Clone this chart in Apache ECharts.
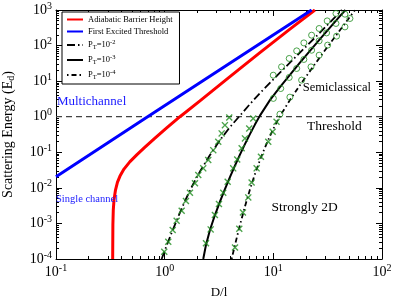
<!DOCTYPE html>
<html><head><meta charset="utf-8">
<script src="https://cdn.jsdelivr.net/npm/echarts@6/dist/echarts.min.js"></script>
<style>html,body{margin:0;padding:0;background:#fff}#c{width:397px;height:300px}</style>
</head><body><div id="c"></div>
<script>
// ---- tick values ----
const xMajor = [0.1, 1, 10, 100];
const xMinor = [0.2,0.3,0.4,0.5,0.6,0.7,0.8,0.9,2,3,4,5,6,7,8,9,20,30,40,50,60,70,80,90];
const yMajor = [1e-4, 1e-3, 1e-2, 1e-1, 1, 10, 100, 1000];
const yMinor = [];
[-4,-3,-2,-1,0,1,2].forEach(e => { for (let k = 2; k <= 9; k++) yMinor.push(k * Math.pow(10, e)); });

// ---- series data ----
const blueD = [0.1, 0.68, 22.5];
const blueE = [0.0204, 0.95, 1000];

const redD = [0.3323, 0.3338, 0.3366, 0.3417, 0.3527, 0.368, 0.388, 0.4222, 0.4795, 0.5561, 0.6588, 0.8143, 1.05, 1.383, 2.112, 3.988, 7.527, 14.21, 24.13];
const redE = [1e-4, 9.0e-4, 2.38e-3, 4.54e-3, 8.67e-3, 0.01456, 0.02143, 0.03373, 0.0548, 0.0861, 0.140, 0.2506, 0.4943, 1.0, 2.80, 13.37, 63.2, 289, 1000];

const thrD = [0.1, 100];
const thrE = [1, 1];

const p2D = [0.938, 1.006, 1.119, 1.244, 1.383, 1.537, 1.709, 1.90, 2.112, 2.611, 3.227, 3.988, 4.929, 6.091, 7.527, 11.5, 17.57, 26.84, 42.76];
const p2E = [1e-4, 1.79e-4, 4.15e-4, 9.3e-4, 2.02e-3, 4.26e-3, 8.4e-3, 0.016, 0.0287, 0.0834, 0.22, 0.511, 1.074, 2.26, 4.6, 17.3, 63.2, 230, 1000];

const p3D = [2.265, 2.399, 2.611, 2.902, 3.227, 3.587, 3.988, 4.434, 4.929, 5.479, 6.091, 6.771, 7.527, 9.305, 11.5, 17.57, 26.84, 41.0, 46.05];
const p3E = [1e-4, 2.47e-4, 6.53e-4, 1.72e-3, 4.12e-3, 9.24e-3, 0.0201, 0.0423, 0.0861, 0.17, 0.324, 0.6, 1.074, 2.93, 6.78, 33.1, 151, 670, 1000];

const p4D = [4.134, 4.434, 4.929, 5.479, 6.091, 6.771, 7.527, 8.368, 9.305, 10.34, 11.5, 14.21, 17.57, 26.84, 41.0, 56.3];
const p4E = [1e-4, 2.47e-4, 9.0e-4, 2.99e-3, 8.95e-3, 0.0244, 0.0604, 0.1355, 0.285, 0.562, 1.04, 2.93, 7.72, 47.2, 271, 986];

const x2D = [0.9915, 1.079, 1.185, 1.289, 1.434, 1.57, 1.709, 1.90, 2.038, 2.265, 2.518, 2.80, 3.112, 3.345, 3.586, 3.93];
const x2E = [1.6e-4, 3.06e-4, 6.5e-4, 1.19e-3, 2.28e-3, 4.26e-3, 7.3e-3, 0.0134, 0.0229, 0.0353, 0.0604, 0.115, 0.197, 0.34, 0.58, 0.955];
const o2D = [9.98, 11.9, 14.0, 16.4, 19.1, 22.5, 26.4, 31.3, 37.7];
const o2E = [14.7, 25.2, 43.4, 71, 119, 196, 302, 494, 798];

const x3D = [2.40, 2.65, 2.90, 3.16, 3.46, 3.80, 4.27, 4.65, 5.11, 5.48, 6.0, 6.53];
const x3E = [2.76e-4, 6.8e-4, 1.72e-3, 3.5e-3, 7.3e-3, 0.0148, 0.0353, 0.063, 0.129, 0.246, 0.469, 0.895];
const o3D = [10.0, 11.7, 14.0, 16.4, 19.1, 22.5, 26.4, 30.9, 37.7, 45.6];
const o3E = [3.27, 6.2, 12.7, 22.7, 40.7, 74, 136, 227, 418, 762];

const x4D = [4.44, 4.86, 5.25, 5.88, 6.31, 7.02, 7.69, 8.98, 9.86, 10.7];
const x4E = [2.1e-4, 7.05e-4, 2.02e-3, 5.4e-3, 0.0141, 0.0353, 0.0748, 0.197, 0.377, 0.72];
const o4D = [11.5, 14.2, 18.2, 22.2, 26.4, 31.6, 38.2, 45.6, 50.7];
const o4E = [1.18, 3.55, 10.7, 25.2, 53.7, 103, 184, 335, 577];

const legendNames = ['Adiabatic Barrier Height', 'First Excited Threshold', 'P_T=10^-2', 'P_T=10^-3', 'P_T=10^-4'];
const legendLabels = {
  'Adiabatic Barrier Height': 'Adiabatic Barrier Height',
  'First Excited Threshold': 'First Excited Threshold',
  'P_T=10^-2': 'P{sub|T}=10{sup|-2}',
  'P_T=10^-3': 'P{sub|T}=10{sup|-3}',
  'P_T=10^-4': 'P{sub|T}=10{sup|-4}'
};

const notes = [
  { text: 'Multichannel', at: [0.102, 2.74], color: '#1a1aff', size: 13 },
  { text: 'Single channel', at: [0.1, 0.0047], color: '#1a1aff', size: 10.5 },
  { text: 'Semiclassical', at: [18.7, 6.35], color: '#000', size: 12.5 },
  { text: 'Threshold', at: [20.4, 0.545], color: '#000', size: 13.5 },
  { text: 'Strongly 2D', at: [9.6, 0.00289], color: '#000', size: 13.5 }
];

// ---- chart ----
const FONT = 'Liberation Serif';
const GREEN = '#1f8c1f';
const CROSS = 'path://M0,1.4L1.4,0L5,3.6L8.6,0L10,1.4L6.4,5L10,8.6L8.6,10L5,6.4L1.4,10L0,8.6L3.6,5Z';
const pts = (xs, ys) => xs.map((x, i) => [x, ys[i]]);
const powLabel = v => { const e = Math.round(Math.log10(v)); return '{b|10}{s|' + e + '}'; };
const labelRich = { b: { fontSize: 14, fontFamily: FONT, color: '#000' }, s: { fontSize: 10, fontFamily: FONT, color: '#000', verticalAlign: 'top', padding: [0, 0, 8, 0] } };

function xAx(pos, major, withLabel) {
  return {
    type: 'log', logBase: 10, min: 0.1, max: 100, position: pos,
    axisLine: { show: major, onZero: false, lineStyle: { color: '#000', width: 1 } },
    axisTick: { show: true, inside: true, length: major ? 6 : 3, customValues: major ? xMajor : xMinor, lineStyle: { color: '#000', width: 1 } },
    axisLabel: withLabel ? { show: true, customValues: xMajor, formatter: powLabel, rich: labelRich, margin: 4 } : { show: false },
    splitLine: { show: false }, minorTick: { show: false },
    name: withLabel ? 'D/l' : '', nameLocation: 'middle', nameGap: 27,
    nameTextStyle: { fontFamily: FONT, fontSize: 13, color: '#000' }
  };
}
function yAx(pos, major, withLabel) {
  return {
    type: 'log', logBase: 10, min: 1e-4, max: 1000, position: pos,
    axisLine: { show: major, onZero: false, lineStyle: { color: '#000', width: 1 } },
    axisTick: { show: true, inside: true, length: major ? 6 : 3, customValues: major ? yMajor : yMinor, lineStyle: { color: '#000', width: 1 } },
    axisLabel: withLabel ? { show: true, customValues: yMajor, formatter: powLabel, rich: labelRich, margin: 4 } : { show: false },
    splitLine: { show: false }, minorTick: { show: false },
    name: withLabel ? 'Scattering Energy (E{sub|d})' : '', nameLocation: 'middle', nameGap: 40,
    nameTextStyle: { fontFamily: FONT, fontSize: 14, color: '#000', rich: { sub: { fontSize: 10, fontFamily: FONT, verticalAlign: 'bottom', padding: [6, 0, 0, 0] } } }
  };
}

const chart = echarts.init(document.getElementById('c'), null, { renderer: 'canvas' });
const option = {
  animation: false,
  backgroundColor: '#fff',
  grid: { left: 56, right: 15, top: 10, bottom: 41, containLabel: false, outerBoundsMode: 'none' },
  xAxis: [xAx('bottom', true, true), xAx('bottom', false, false), xAx('top', true, false), xAx('top', false, false)],
  yAxis: [yAx('left', true, true), yAx('left', false, false), yAx('right', true, false), yAx('right', false, false)],
  legend: {
    orient: 'vertical', left: 62, top: 12,
    backgroundColor: '#fff', borderColor: '#000', borderWidth: 1, borderRadius: 0,
    padding: [3, 7, 3, 4], itemGap: 3, itemWidth: 16, itemHeight: 9,
    itemStyle: { color: 'rgba(0,0,0,0)', borderColor: 'rgba(0,0,0,0)', borderWidth: 0 },
    data: legendNames,
    formatter: n => legendLabels[n],
    textStyle: {
      fontFamily: FONT, fontSize: 8.5, color: '#000', padding: [0, 0, 0, 0],
      rich: { sub: { fontSize: 6.5, fontFamily: FONT, verticalAlign: 'bottom', padding: [4, 0, 0, 0] }, sup: { fontSize: 6.5, fontFamily: FONT, verticalAlign: 'top', padding: [0, 0, 5, 0] } }
    }
  },
  series: [
    { name: 'threshold', type: 'line', data: pts(thrD, thrE), symbol: 'none', silent: true, lineStyle: { color: '#444', width: 1.2, type: [6, 4] }, z: 2 },
    { name: 'Adiabatic Barrier Height', type: 'line', data: pts(redD, redE), symbol: 'none', lineStyle: { color: '#ff0000', width: 3, join: 'round' }, itemStyle: { color: '#ff0000' }, z: 3 },
    { name: 'First Excited Threshold', type: 'line', data: pts(blueD, blueE), symbol: 'none', lineStyle: { color: '#0000ff', width: 3 }, itemStyle: { color: '#0000ff' }, z: 3 },
    { name: 'P_T=10^-2', type: 'line', data: pts(p2D, p2E), symbol: 'none', lineStyle: { color: '#000', width: 1.8, type: [8, 3, 1.5, 3] }, itemStyle: { color: '#000' }, z: 4 },
    { name: 'P_T=10^-3', type: 'line', data: pts(p3D, p3E), symbol: 'none', lineStyle: { color: '#000', width: 2, join: 'round' }, itemStyle: { color: '#000' }, z: 4 },
    { name: 'P_T=10^-4', type: 'line', data: pts(p4D, p4E), symbol: 'none', lineStyle: { color: '#000', width: 1.8, type: [1.5, 3, 5, 3] }, itemStyle: { color: '#000' }, z: 4 },
    { type: 'scatter', data: pts(x2D, x2E).concat(pts(x3D, x3E), pts(x4D, x4E)), symbol: CROSS, symbolSize: 7, itemStyle: { color: GREEN }, z: 5, silent: true },
    { type: 'scatter', data: pts(o2D, o2E).concat(pts(o3D, o3E), pts(o4D, o4E)), symbol: 'circle', symbolSize: 6, itemStyle: { color: 'rgba(0,0,0,0)', borderColor: GREEN, borderWidth: 1 }, z: 5, silent: true }
  ]
};
chart.setOption(option);
const g = notes.map(n => {
  const p = chart.convertToPixel({ gridIndex: 0 }, n.at);
  return { type: 'text', x: p[0], y: p[1], z: 10, style: { text: n.text, fill: n.color, font: n.size + 'px "' + FONT + '"', align: 'left', verticalAlign: 'middle' } };
});
chart.setOption({ graphic: g });
</script>
</body></html>
